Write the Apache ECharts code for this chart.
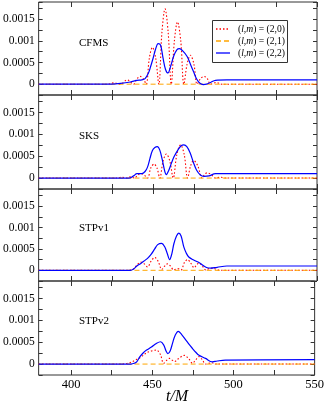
<!DOCTYPE html>
<html><head><meta charset="utf-8">
<script src="https://cdn.jsdelivr.net/npm/echarts@6/dist/echarts.min.js"></script>
<style>html,body{margin:0;padding:0;background:#fff}#c{width:327px;height:403px}</style>
</head><body><div id="c"></div>
<script>
// ---------- data ----------
const panelNames = ['CFMS', 'SKS', 'STPv1', 'STPv2'];
const seriesNames = ['(l,m) = (2,0)', '(l,m) = (2,1)', '(l,m) = (2,2)'];
const xTicks = [400, 425, 450, 475, 500, 525, 550];
const xLabels = [400, 450, 500, 550];
const yLabels = [0, 0.0005, 0.001, 0.0015];

const CFMS_22 = [[380,0],[420,0],[430,0.00002],[436,0.00005],[440,0.00009],[443,0.0001],[445,0.00013],[447,0.00025],[448.5,0.00042],[449.9,0.0006],[451.5,0.00082],[453,0.00094],[454.5,0.0009],[456,0.0006],[457.5,0.00034],[459,0.00026],[460.5,0.0004],[462.5,0.00065],[464.5,0.0008],[466,0.00082],[468,0.00077],[470.7,0.00064],[472.7,0.00046],[474.7,0.00028],[476.5,0.00012],[478.5,0.00002],[480.5,-0.00001],[482.5,0],[485,0.00004],[488,0.00009],[495,0.0001],[550,0.0001]];
const CFMS_20 = [[380,0],[422,0],[426,0.00003],[430,0],[434,0.0001],[438,0],[440,0.00012],[442,0.00018],[444,0.00012],[445.7,0],[447.6,0.0006],[449.5,0.00085],[451.5,0.0006],[453.4,0],[455.3,0.0012],[457.2,0.00174],[459.1,0.0012],[461,0],[462.9,0.001],[464.8,0.00144],[466.8,0.001],[468.7,0],[470.7,0.00047],[472.7,0.00067],[474.8,0.00047],[476.8,0],[478.9,0.00013],[481,0.00018],[483,0.00013],[485,0],[488.5,0.00004],[492,0],[550,0]];
const CFMS_21 = [[380,0],[550,0]];

const SKS_22 = [[380,0],[435,0],[438,0.00005],[440,0.0001],[443,0.0001],[445,0.00015],[446.5,0.00025],[448,0.00045],[449.5,0.00063],[451,0.0007],[452.5,0.00072],[454,0.00064],[455.5,0.00042],[457,0.00016],[458,0.00008],[459.5,0.00018],[461,0.00033],[462.6,0.00048],[465,0.00064],[467,0.00074],[468.7,0.00076],[470.5,0.00072],[472.5,0.00058],[474.7,0.00034],[476.5,0.00018],[478.8,0.00007],[481,0.00004],[484,0.00005],[488,0.0001],[550,0.0001]];
const SKS_20 = [[380,0],[428,0],[431,0.00002],[434,0],[436,0.00003],[438.5,0],[440.5,0.00007],[442.4,0.0001],[444.5,0.00007],[446.5,0],[448.5,0.00023],[450.5,0.00032],[452.3,0.00023],[454,0],[456,0.00039],[458,0.00055],[460.1,0.00039],[462.2,0],[464.4,0.00054],[466.7,0.00076],[468.9,0.00054],[471,0],[472.8,0.00028],[474.7,0.0004],[477.2,0.00028],[479.8,0],[481.3,0.00008],[482.8,0.00012],[485.4,0.00008],[488,0],[491,0.00002],[494,0],[550,0]];
const SKS_21 = [[380,0],[550,0]];

const STP1_22 = [[380,0],[436,0],[438,0.00003],[440,0.0001],[442.4,0.00016],[444.5,0.00022],[446.5,0.00028],[448.8,0.00038],[450.9,0.0005],[452.7,0.0006],[455.1,0.00063],[457,0.00055],[458.5,0.0004],[460,0.00025],[461.3,0.00038],[462.6,0.00062],[464.2,0.0008],[465.6,0.00087],[467,0.0008],[468.7,0.00054],[470.2,0.0004],[471.7,0.00031],[474.7,0.00024],[477,0.0002],[478.8,0.00016],[481,0.0001],[483,0.00006],[485,0.00005],[489,0.00007],[495,0.0001],[550,0.0001]];
const STP1_20 = [[380,0],[434,0],[438,0.00003],[440,0.00012],[442.4,0.00019],[444.5,0.00015],[446.5,0.00008],[448.8,0.00022],[450.9,0.0003],[453,0.00021],[455.2,0.00002],[457,0.0001],[458.6,0.00015],[460.5,0.0001],[462.5,0.00001],[465,0.00004],[467,0.00001],[469,0.00018],[471,0.00025],[473,0.00016],[475,0.00006],[476.5,0.00013],[478,0.00017],[480,0.0001],[482,0.00001],[484,0.00004],[486.3,0.00005],[488.5,0.00002],[491,0],[550,0]];
const STP1_21 = [[380,0],[550,0]];

const STP2_22 = [[380,0],[437,0],[439,0.00002],[440.4,0.00005],[442.4,0.00017],[444.5,0.00026],[446.5,0.00032],[449.5,0.00039],[452.5,0.00047],[455.1,0.00051],[457,0.00044],[458.5,0.0003],[459.6,0.00024],[461,0.0003],[462.5,0.00048],[464,0.00065],[466,0.00075],[468,0.00068],[470.7,0.00055],[472.7,0.00045],[474.7,0.00036],[476.8,0.00027],[478.8,0.0002],[482.8,0.00013],[486.9,0.00005],[490,0.00007],[495,0.00009],[550,0.0001]];
const STP2_20 = [[380,0],[430,0],[436,0.00003],[440,0.0001],[443,0.00016],[446.5,0.00026],[449.5,0.0003],[452.5,0.00032],[455,0.00022],[457,0.00002],[459,0.00009],[460.6,0.00013],[462.3,0.00009],[463.8,0.00006],[466,0.00012],[469.7,0.0002],[472.5,0.00012],[474.7,0.00002],[476.8,0.0001],[478.8,0.00017],[480.8,0.0001],[482.8,0],[485,0.00002],[486.9,0.00003],[489,0],[550,0]];
const STP2_21 = [[380,0],[550,0]];

const panelData = [
  [CFMS_20, CFMS_21, CFMS_22],
  [SKS_20, SKS_21, SKS_22],
  [STP1_20, STP1_21, STP1_22],
  [STP2_20, STP2_21, STP2_22]
];

// ---------- layout ----------
const FONT = '"Liberation Serif", "DejaVu Serif", serif';
const tops = [2, 95, 189, 281];
const heights = [93, 94, 92, 94];
const labelY = [45, 138, 230, 323];
const colors = ['#ff0000', '#ffa500', '#0000ff'];
const dashes = [[1.5, 2], [5, 3], null];
const widths = [1.1, 1, 1.2];

const grids = [], xAxes = [], yAxes = [], series = [], graphics = [];
for (let i = 0; i < 4; i++) {
  grids.push({left: 37, right: 10, top: tops[i], height: heights[i], show: true,
    borderColor: '#333', borderWidth: 1, backgroundColor: 'transparent'});
  const last = i === 3;
  ['bottom', 'top'].forEach((pos, k) => {
    xAxes.push({type: 'value', gridIndex: i, position: pos, min: 380, max: 550,
      axisLine: {show: false, onZero: false}, splitLine: {show: false},
      axisTick: {show: true, inside: true, length: 5, customValues: xTicks, lineStyle: {color: '#333'}},
      axisLabel: {show: last && k === 0, customValues: xLabels, margin: 3, color: '#000',
        fontFamily: FONT, fontSize: 12.5}});
  });
  ['left', 'right'].forEach((pos, k) => {
    yAxes.push({type: 'value', gridIndex: i, position: pos, min: -0.00025, max: 0.0019, interval: 0.00025,
      axisLine: {show: false, onZero: false}, splitLine: {show: false},
      axisTick: {show: true, inside: true, length: 4, lineStyle: {color: '#333'}},
      axisLabel: {show: k === 0, customValues: yLabels, margin: 4, color: '#000',
        fontFamily: FONT, fontSize: 11.5,
        formatter: v => v === 0 ? '0' : String(+v.toFixed(5))}});
  });
  [0, 1, 2].forEach(s => {
    series.push({type: 'line', name: seriesNames[s], xAxisIndex: i * 2, yAxisIndex: i * 2,
      data: panelData[i][s], showSymbol: false, symbol: 'none', smooth: 0.35,
      lineStyle: {color: colors[s], type: dashes[s] || 'solid', width: widths[s]},
      itemStyle: {color: colors[s]}, z: s === 2 ? 4 : (s === 1 ? 3 : 2), animation: false});
  });
  graphics.push({type: 'text', left: 79, top: labelY[i] - 7,
    style: {text: panelNames[i], font: '11px ' + FONT, fill: '#000'}});
}
graphics.push({type: 'text', x: 177, y: 389,
  style: {text: 't/M', font: 'italic 16px ' + FONT, fill: '#000', align: 'center', textAlign: 'center'}});

// legend box (drawn as graphics)
const legendRows = [29, 41, 53];
graphics.push({type: 'rect', shape: {x: 212.5, y: 20.5, width: 75, height: 42},
  style: {fill: '#fff', stroke: '#333', lineWidth: 1}, z: 100});
seriesNames.forEach((n, s) => {
  graphics.push({type: 'polyline', shape: {points: [[216, legendRows[s]], [230, legendRows[s]]]},
    style: {stroke: colors[s], fill: null, lineWidth: 1.3, lineDash: dashes[s] || 'solid'}, z: 101});
  graphics.push({type: 'text', x: 238, y: legendRows[s], z: 101,
    style: {text: n.replace('(l,m)', '({i|l},{i|m})'), font: '9.6px ' + FONT, fill: '#000',
      verticalAlign: 'middle', textVerticalAlign: 'middle',
      rich: {i: {fontStyle: 'italic', fontFamily: FONT, fontSize: 9.6, fill: '#000'}}}});
});

const chart = echarts.init(document.getElementById('c'), null, {renderer: 'canvas'});
chart.setOption({
  backgroundColor: '#fff',
  animation: false,
  grid: grids, xAxis: xAxes, yAxis: yAxes, series: series, graphic: graphics
});
</script></body></html>
